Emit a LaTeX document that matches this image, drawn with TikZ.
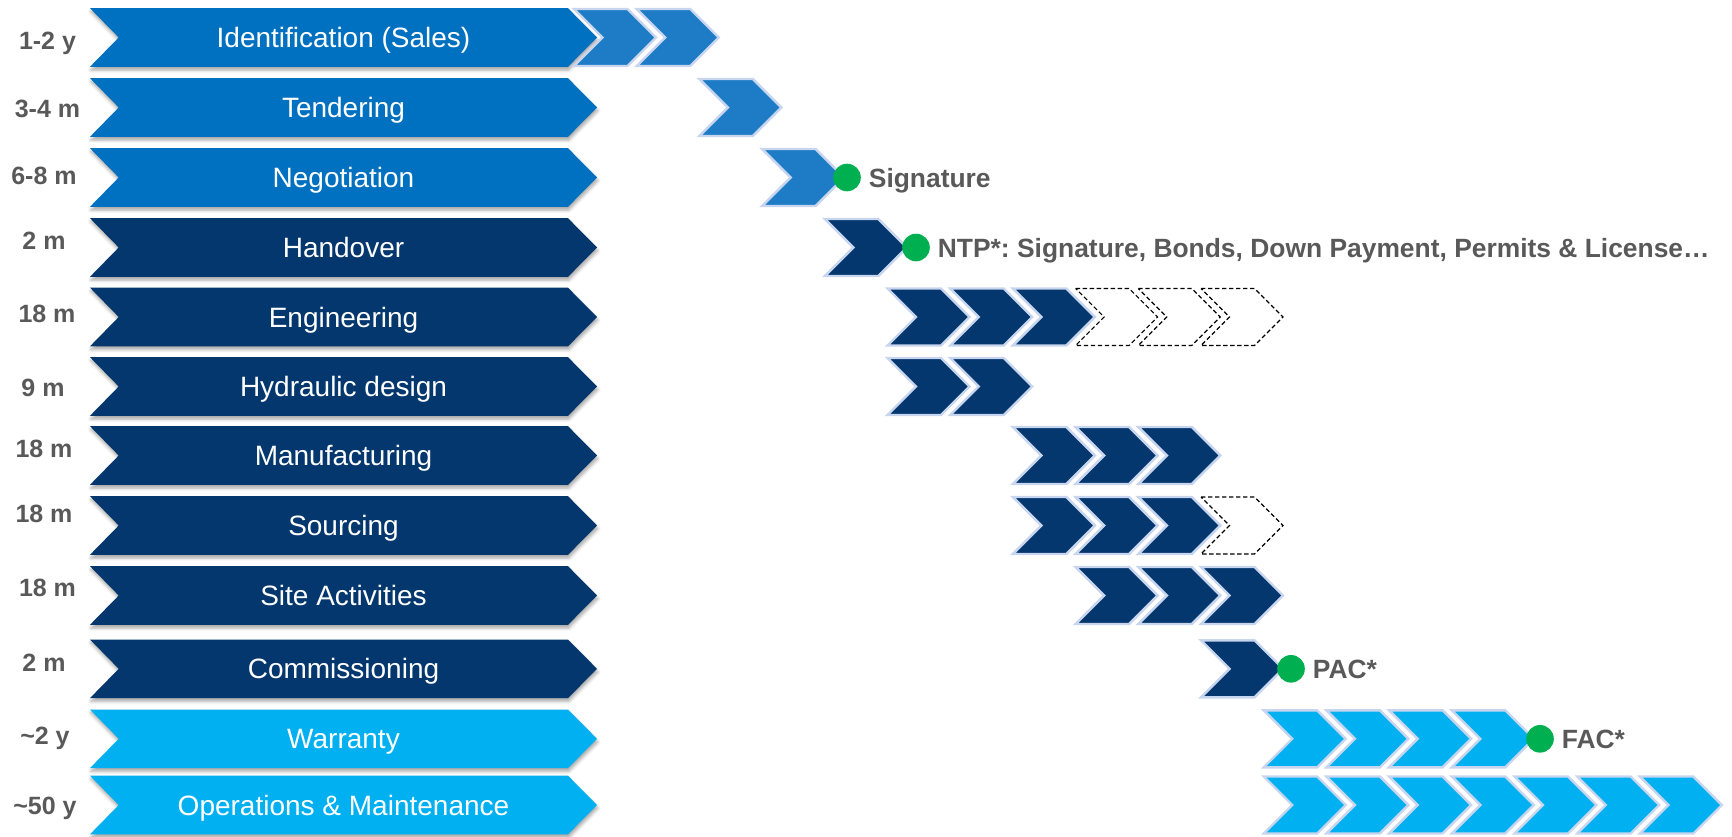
\documentclass[tikz,border=0pt]{standalone}
\usepackage{fontspec}
\setmainfont{Liberation Sans}
\usetikzlibrary{shadows.blur}
\frenchspacing

\definecolor{midblue}{HTML}{0070C0}
\definecolor{stepblue}{HTML}{1E7CC6}
\definecolor{navy}{HTML}{03376D}
\definecolor{skyblue}{HTML}{00B0F0}
\definecolor{rimblue}{HTML}{C8D5EF}
\definecolor{labelgray}{HTML}{595959}
\definecolor{okgreen}{HTML}{00B050}

\tikzset{
  bar/.style={blur shadow={shadow xshift=0.4pt, shadow yshift=-1.6pt,
      shadow blur radius=1.6pt, shadow opacity=35}},
  tile/.style={draw=rimblue, line width=1.2pt, line join=miter},
  ghost/.style={draw=black, fill=white, line width=0.6pt,
      dash pattern=on 2.2pt off 1.3pt},
  bartext/.style={text=white, font=\fontsize{14pt}{16pt}\selectfont,
      anchor=base, inner sep=0pt},
  span/.style={text=labelgray, font=\bfseries\fontsize{12.5pt}{15pt}\selectfont,
      anchor=base, inner sep=0pt},
  dot/.style={circle, fill=okgreen, minimum size=13.8pt, inner sep=0pt},
  miletext/.style={text=labelgray, font=\bfseries\fontsize{13.2pt}{15pt}\selectfont,
      anchor=base west, inner sep=0pt}
}

% phase bar: name, centre y, colour, text
\newcommand\phasebar[4]{%
  \fill[#3, bar] (90,{#2-29.3}) -- (568,{#2-29.3}) -- (597,#2)
    -- (568,{#2+29.3}) -- (90,{#2+29.3}) -- (118.7,#2) -- cycle;
  \node[bartext] (#1) at (343.5,{#2+10}) {#4};
}
% duration label: name, x centre, y middle, text
\newcommand\spanlabel[4]{%
  \node[span] (#1) at (#2,{#3+9}) {#4};
}
% timeline tile: slot, centre y, style
\newcommand\steptile[3]{%
  \path[#3] ({574+62.7*#1},{#2-28.5}) -- ++(53.5,0) -- ++(28.5,28.5)
    -- ++(-28.5,28.5) -- ++(-53.5,0) -- ++(28.5,-28.5) -- cycle;
}
% milestone: name, x, y, text
\newcommand\milestone[4]{%
  \node[dot] (#1) at (#2,#3) {};
  \node[miletext] (#1-text) at ({#2+21.5},{#3+9.5}) {#4};
}

\begin{document}
\begin{tikzpicture}[x=0.5pt,y=-0.5pt]
\useasboundingbox (0,0) rectangle (1732,836);

% phase bars
\phasebar{ident}{37.5}{midblue}{Identification (Sales)}
\phasebar{tender}{107.5}{midblue}{Tendering}
\phasebar{negot}{177.5}{midblue}{Negotiation}
\phasebar{handover}{247.5}{navy}{Handover}
\phasebar{engin}{317}{navy}{Engineering}
\phasebar{hydro}{386.5}{navy}{Hydraulic design}
\phasebar{manuf}{455.5}{navy}{Manufacturing}
\phasebar{source}{525.5}{navy}{Sourcing}
\phasebar{site}{595.5}{navy}{Site Activities}
\phasebar{commis}{668.8}{navy}{Commissioning}
\phasebar{warranty}{738.8}{skyblue}{Warranty}
\phasebar{operate}{805}{skyblue}{Operations \& Maintenance}

% durations
\spanlabel{d-ident}{47.5}{40}{1-2 y}
\spanlabel{d-tender}{47.5}{108}{3-4 m}
\spanlabel{d-negot}{44}{175}{6-8 m}
\spanlabel{d-handover}{44}{240}{2 m}
\spanlabel{d-engin}{47}{313}{18 m}
\spanlabel{d-hydro}{43}{387}{9 m}
\spanlabel{d-manuf}{44}{448}{18 m}
\spanlabel{d-source}{44}{513}{18 m}
\spanlabel{d-site}{47.5}{587}{18 m}
\spanlabel{d-commis}{44}{662}{2 m}
\spanlabel{d-warranty}{45}{735}{\textasciitilde 2 y}
\spanlabel{d-operate}{45}{805}{\textasciitilde 50 y}

% timeline tiles
\foreach \k in {0,1} {\steptile{\k}{37.5}{tile, fill=stepblue}}
\steptile{2}{107.5}{tile, fill=stepblue}
\steptile{3}{177.5}{tile, fill=stepblue}
\steptile{4}{247.5}{tile, fill=navy}
\foreach \k in {5,6,7} {\steptile{\k}{317}{tile, fill=navy}}
\foreach \k in {8,9,10} {\steptile{\k}{317}{ghost}}
\foreach \k in {5,6} {\steptile{\k}{386.5}{tile, fill=navy}}
\foreach \k in {7,8,9} {\steptile{\k}{455.5}{tile, fill=navy}}
\foreach \k in {7,8,9} {\steptile{\k}{525.5}{tile, fill=navy}}
\steptile{10}{525.5}{ghost}
\foreach \k in {8,9,10} {\steptile{\k}{595.5}{tile, fill=navy}}
\steptile{10}{668.8}{tile, fill=navy}
\foreach \k in {11,...,14} {\steptile{\k}{738.8}{tile, fill=skyblue}}
\foreach \k in {11,...,17} {\steptile{\k}{805}{tile, fill=skyblue}}

% milestones
\milestone{sign}{847}{177.5}{Signature}
\milestone{ntp}{916}{247.5}{NTP*: Signature, Bonds, Down Payment, Permits \& License…}
\milestone{pac}{1291}{668.8}{PAC*}
\milestone{fac}{1540}{738.8}{FAC*}
\end{tikzpicture}
\end{document}
